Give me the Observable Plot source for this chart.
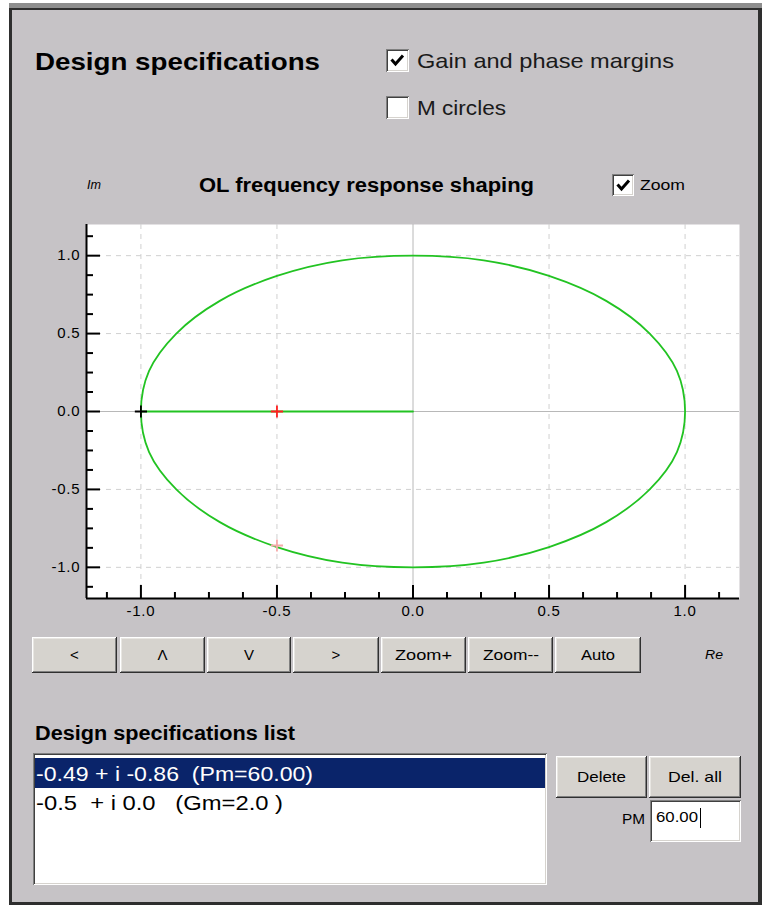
<!DOCTYPE html>
<html>
<head>
<meta charset="utf-8">
<script src="https://cdn.jsdelivr.net/npm/d3@7"></script>
<script src="https://cdn.jsdelivr.net/npm/@observablehq/plot@0.6"></script>
<style>
  html, body { margin: 0; padding: 0; background: #ffffff; width: 764px; height: 906px; overflow: hidden; }
  #root { position: relative; width: 764px; height: 906px; font-family: "Liberation Sans", Arial, sans-serif; }
  .btn { position: absolute; background: #d6d3ce;
         box-shadow: inset -1px -1px #303030, inset 1px 1px #ffffff, inset -2px -2px #808080, inset 2px 2px #e8e6e2; }
  .sunken { position: absolute; background: #ffffff;
         box-shadow: inset 1px 1px #808080, inset -1px -1px #ffffff, inset 2px 2px #404040, inset -2px -2px #d6d3ce; }
  .nyq [aria-label$="tick label"] text { letter-spacing: 0.8px; }
</style>
</head>
<body>
<div id="root"></div>
<script>
// ---------------- data ----------------
const axisDomain = [-1.2, 1.2];
const majorTicks = [-1, -0.5, 0, 0.5, 1];
const minorTicks = [-1.125, -0.875, -0.75, -0.625, -0.375, -0.25, -0.125, 0.125, 0.25, 0.375, 0.625, 0.75, 0.875, 1.125];
const gridValues = [-1, -0.5, 0.5, 1];
const zeroLines = [0];

// Nyquist locus (unit circle)
const locusRe = [1.00, 0.97, 0.87, 0.71, 0.50, 0.26, 0.00, -0.26, -0.50, -0.71, -0.87, -0.97, -1.00, -0.97, -0.87, -0.71, -0.50, -0.26, 0.00, 0.26, 0.50, 0.71, 0.87, 0.97];
const locusIm = [0.00, 0.26, 0.50, 0.71, 0.87, 0.97, 1.00, 0.97, 0.87, 0.71, 0.50, 0.26, 0.00, -0.26, -0.50, -0.71, -0.87, -0.97, -1.00, -0.97, -0.87, -0.71, -0.50, -0.26];
// segment on the real axis
const segmentRe = [-1.00, 0.00];
const segmentIm = [0.00, 0.00];

// markers
const markerKinds = ["critical point", "gain margin", "phase margin"];
const markerRe = [-1.00, -0.50, -0.50];
const markerIm = [0.00, 0.00, -0.86];

const headerTitle = "Design specifications";
const checkboxLabels = ["Gain and phase margins", "M circles"];
const chartTitle = "OL frequency response shaping";
const buttonLabels = ["<", "Λ", "V", ">", "Zoom+", "Zoom--", "Auto"];
const listTitle = "Design specifications list";
const specList = ["-0.49 + i -0.86  (Pm=60.00)", "-0.5  + i 0.0   (Gm=2.0 )"];
const listButtons = ["Delete", "Del. all"];
const pmValue = "60.00";

// ---------------- chrome ----------------
const root = document.getElementById("root");
function box(cls, x, y, w, h, bg) {
  const d = document.createElement("div");
  d.className = cls;
  Object.assign(d.style, {position: "absolute", left: x + "px", top: y + "px", width: w + "px", height: h + "px"});
  if (bg) d.style.background = bg;
  root.appendChild(d);
  return d;
}
function txt(s, o) {
  const d = document.createElement("div");
  d.textContent = s;
  Object.assign(d.style, {
    position: "absolute", left: "0px", top: (o.cy - o.size) + "px",
    lineHeight: (2 * o.size) + "px", fontSize: o.size + "px",
    fontFamily: o.font || '"Liberation Sans", Arial, sans-serif',
    fontWeight: o.bold ? "bold" : "normal", fontStyle: o.italic ? "italic" : "normal",
    color: o.color || "#000", whiteSpace: "pre", transformOrigin: "0 50%"
  });
  root.appendChild(d);
  const nat = d.getBoundingClientRect().width;
  const w = o.w || nat;
  const k = w / nat;
  let left = o.x;
  if (o.center !== undefined) left = o.center - w / 2;
  d.style.left = left + "px";
  if (Math.abs(k - 1) > 0.001) d.style.transform = `scaleX(${k})`;
  return d;
}
function checkbox(x, y, size, checked) {
  const b = box("sunken", x, y, size, size);
  if (checked) {
    b.innerHTML = `<svg width="${size}" height="${size}" style="position:absolute;left:0;top:0"><path d="M5.5,10.5 L9.5,15 L17,6.5" fill="none" stroke="#000" stroke-width="3"/></svg>`;
  }
}

// window frame
box("", 9, 3, 753, 902, "#2e2e2e");
box("", 9, 3, 753, 5, "#8e8e8e");
box("", 12, 10, 746, 892, "#c6c3c6");

// header
txt(headerTitle, {x: 35, cy: 61.5, size: 24, bold: true, w: 285});
checkbox(386, 49, 23, true);
txt(checkboxLabels[0], {x: 417, cy: 60.5, size: 21, w: 257, color: "#1a1a1a"});
checkbox(386, 96, 23, false);
txt(checkboxLabels[1], {x: 417, cy: 108, size: 21, w: 89, color: "#1a1a1a"});

// chart header row
txt("Im", {x: 87, cy: 185, size: 12, italic: true, w: 14});
txt(chartTitle, {x: 199, cy: 184.5, size: 20, bold: true, w: 335});
checkbox(612, 174, 22, true);
txt("Zoom", {x: 640, cy: 185, size: 15, w: 45});

// ---------------- plot ----------------
const W = 764, H = 440, ML = 86, MR = 25, MT = 24, MB = 42;
const plotW = W - ML - MR, plotH = H - MT - MB;
const locus = locusRe.map((re, i) => ({re, im: locusIm[i]}));
const segment = segmentRe.map((re, i) => ({re, im: segmentIm[i]}));
const markers = markerRe.map((re, i) => ({re, im: markerIm[i], kind: markerKinds[i]}));
const fmt = d => d.toFixed(1);

const plot = Plot.plot({
  width: W, height: H,
  marginLeft: ML, marginRight: MR, marginTop: MT, marginBottom: MB,
  className: "nyq",
  style: {background: "transparent", overflow: "visible", fontFamily: '"Liberation Sans", Arial, sans-serif', color: "#000"},
  x: {domain: axisDomain},
  y: {domain: axisDomain},
  color: {domain: markerKinds, range: ["#000000", "#ff1f1f", "#f6a9a9"]},
  marks: [
    Plot.frame({fill: "white", stroke: "none"}),
    Plot.ruleX(gridValues, {x: d => d, stroke: "#d0d0d0", strokeDasharray: "5,5"}),
    Plot.ruleY(gridValues, {y: d => d, stroke: "#d0d0d0", strokeDasharray: "5,5"}),
    Plot.ruleX(zeroLines, {x: d => d, stroke: "#b8b8b8"}),
    Plot.ruleY(zeroLines, {y: d => d, stroke: "#b8b8b8"}),
    Plot.line(locus, {x: "re", y: "im", stroke: "#22c322", strokeWidth: 1.8, curve: "catmull-rom-closed"}),
    Plot.line(segment, {x: "re", y: "im", stroke: "#22c322", strokeWidth: 1.8}),
    Plot.dot(markers, {x: "re", y: "im", stroke: "kind", symbol: "plus", r: 4, strokeWidth: 1.8}),
    Plot.tickY(majorTicks, {y: d => d, stroke: "#000", strokeWidth: 2, insetRight: plotW - 14}),
    Plot.tickY(minorTicks, {y: d => d, stroke: "#000", strokeWidth: 2, insetRight: plotW - 7}),
    Plot.tickX(majorTicks, {x: d => d, stroke: "#000", strokeWidth: 2, insetTop: plotH - 13}),
    Plot.tickX(minorTicks, {x: d => d, stroke: "#000", strokeWidth: 2, insetTop: plotH - 6}),
    Plot.ruleX([axisDomain[0]], {x: d => d, stroke: "#000", strokeWidth: 2}),
    Plot.ruleY([axisDomain[0]], {y: d => d, stroke: "#000", strokeWidth: 2}),
    Plot.axisX(majorTicks, {tickSize: 0, tickPadding: 7, tickFormat: fmt, fontSize: 15, label: null}),
    Plot.axisY(majorTicks, {tickSize: 0, tickPadding: 6, tickFormat: fmt, fontSize: 15, label: null})
  ]
});
plot.style.position = "absolute";
plot.style.left = "0px";
plot.style.top = "200px";
root.appendChild(plot);

// ---------------- buttons row ----------------
const btnX = [[32, 117], [120, 205], [207, 291], [293, 379], [381, 466], [468, 553], [555, 641]];
const btnW = [null, null, null, null, 57, 56, 34];
buttonLabels.forEach((lab, i) => {
  const [a, b] = btnX[i];
  box("btn", a, 637, b - a, 36);
  const o = {cy: 655, size: 15, center: (a + b) / 2};
  if (btnW[i]) o.w = btnW[i];
  txt(lab, o);
});
txt("Re", {x: 705, cy: 655, size: 12, italic: true, w: 18});

// ---------------- list ----------------
txt(listTitle, {x: 35, cy: 733, size: 20, bold: true, w: 260});
box("sunken", 33, 753, 514, 132);
box("", 35, 758, 510, 30, "#0a246a");
txt(specList[0], {x: 36, cy: 774, size: 21, w: 277, color: "#ffffff"});
txt(specList[1], {x: 36, cy: 803, size: 21, w: 247});

const lbX = [[556, 647], [649, 741]];
const lbW = [49, 54];
listButtons.forEach((lab, i) => {
  const [a, b] = lbX[i];
  box("btn", a, 756, b - a, 42);
  txt(lab, {cy: 777, size: 15, center: (a + b) / 2, w: lbW[i]});
});
txt("PM", {x: 622, cy: 819, size: 14, w: 23});
box("sunken", 650, 800, 91, 42);
txt(pmValue, {x: 656, cy: 817, size: 14, w: 42});
box("", 700, 808, 1, 20, "#000");
</script>
</body>
</html>
